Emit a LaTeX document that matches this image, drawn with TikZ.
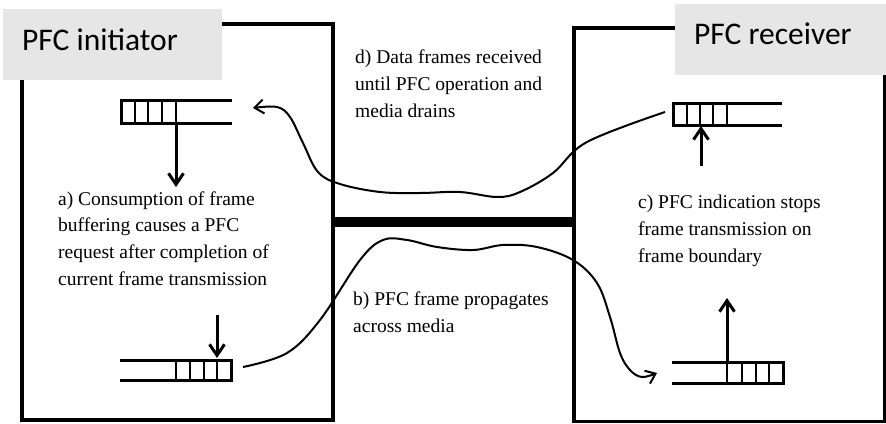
\documentclass[tikz,border=0pt]{standalone}
\usepackage{fontspec}
\setmainfont{Liberation Serif}
\newfontfamily\labfont{Carlito}
\usetikzlibrary{arrows.meta}
\definecolor{labgray}{RGB}{231,230,230}
\begin{document}
\begin{tikzpicture}[x=1pt,y=-1pt,
  boxline/.style={line width=3.2pt},
  bufline/.style={line width=3pt},
  cellline/.style={line width=2.6pt},
  sigarrow/.style={line width=3pt,-{Straight Barb[length=11pt,width=15pt]}},
  flow/.style={line width=2pt,-{Straight Barb[length=9pt,width=14pt]}},
  desc/.style={font=\fontsize{19.5}{27}\selectfont, anchor=base west, inner sep=0pt},
  tagbg/.style={fill=labgray, draw=none, inner sep=0pt, anchor=north west},
  tagtext/.style={font=\labfont\fontsize{31.5}{36}\selectfont, anchor=base west, inner sep=0pt}]

\useasboundingbox (0,0) rectangle (886,423);

% boxes
\draw[boxline] (22,24) rectangle (333,420);
\draw[boxline] (574,28) rectangle (885,421.5);

% media
\fill (333,217) rectangle (574,227);

% gray labels
\node[tagbg, minimum width=219pt, minimum height=71pt] (initbg) at (3,9) {};
\node[tagtext] (initl) at (22,50) {PFC initiator};
\node[tagbg, minimum width=211pt, minimum height=71pt] (recvbg) at (675,4) {};
\node[tagtext] (recvl) at (694,44) {PFC receiver};

% top-left buffer
\draw[bufline] (232,100) -- (121,100) -- (121,123) -- (232,123);
\foreach \x in {135,148,162,176} \draw[cellline] (\x,100) -- (\x,123);
% bottom-left buffer
\draw[bufline] (120,360) -- (231,360) -- (231,380) -- (120,380);
\foreach \x in {176,190,204,217} \draw[cellline] (\x,360) -- (\x,380);
% top-right buffer
\draw[bufline] (782,103) -- (673,103) -- (673,125) -- (782,125);
\foreach \x in {687,700,713,727} \draw[cellline] (\x,103) -- (\x,125);
% bottom-right buffer
\draw[bufline] (672,362) -- (783,362) -- (783,383) -- (672,383);
\foreach \x in {727,742,756,769} \draw[cellline] (\x,362) -- (\x,383);

% coordinates
\coordinate (tlout) at (176,123);
\coordinate (tltip) at (176,187);
\coordinate (bltop) at (217,315);
\coordinate (blin) at (217,358);
\coordinate (trfrom) at (701,166);
\coordinate (trin) at (701,126);
\coordinate (brout) at (727,362);
\coordinate (brtip) at (727,298);
\coordinate (dstart) at (665,112);
\coordinate (dend) at (253,108);
\coordinate (bstart) at (243,367);
\coordinate (bend) at (657,373);

% straight arrows
\draw[sigarrow] (tlout) -- (tltip);
\draw[sigarrow] (bltop) -- (blin);
\draw[sigarrow] (trfrom) -- (trin);
\draw[sigarrow] (brout) -- (brtip);

% curves
\draw[flow] plot[smooth, tension=0.6] coordinates {(dstart) (587,142) (553,173) (520,192) (497,197) (460,192) (420,193) (380,192) (340,184) (318,172) (303,143) (290,117) (277,107) (dend)};
\draw[flow] plot[smooth, tension=0.6] coordinates {(bstart) (287,353) (320,320) (360,260) (383,240) (407,240) (437,247) (473,250) (503,245) (537,247) (573,260) (597,283) (610,317) (620,353) (630,370) (642,377) (bend)};

% texts
\node[desc] (a1) at (58,205) {a) Consumption of frame};
\node[desc] (a2) at (58,231.7) {buffering causes a PFC};
\node[desc] (a3) at (58,258.3) {request after completion of};
\node[desc] (a4) at (58,285) {current frame transmission};
\node[desc] (b1) at (353,305) {b) PFC frame propagates};
\node[desc] (b2) at (353,332) {across media};
\node[desc] (c1) at (638,208) {c) PFC indication stops};
\node[desc] (c2) at (638,235) {frame transmission on};
\node[desc] (c3) at (638,262) {frame boundary};
\node[desc] (d1) at (355,63) {d) Data frames received};
\node[desc] (d2) at (355,90) {until PFC operation and};
\node[desc] (d3) at (355,117) {media drains};
\end{tikzpicture}
\end{document}
